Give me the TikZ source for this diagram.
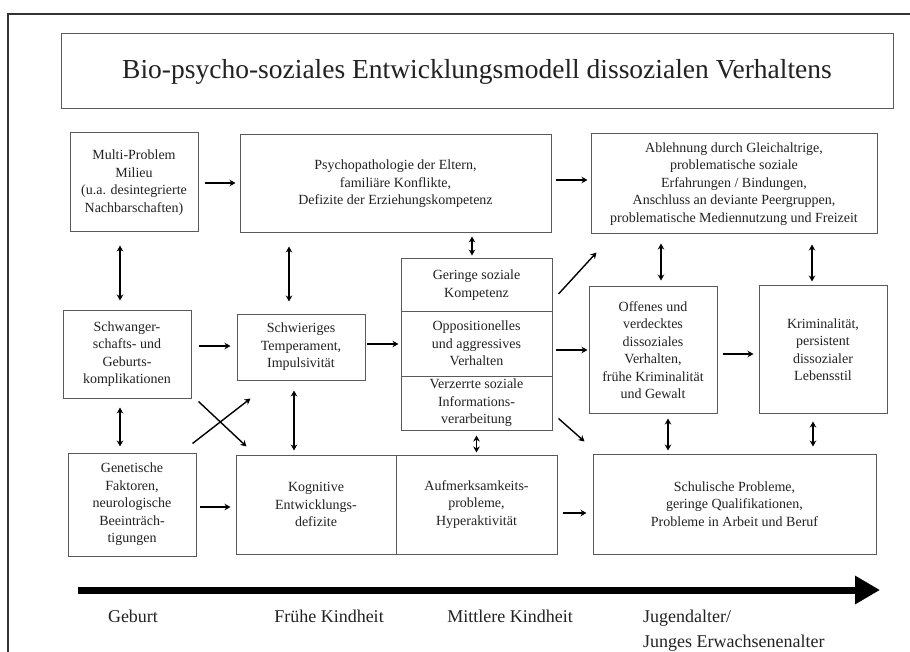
\documentclass[tikz,border=0pt]{standalone}
\usepackage{fontspec}
\setmainfont{Liberation Serif}
\usetikzlibrary{arrows.meta}
\definecolor{boxgray}{HTML}{5A5A5A}
\definecolor{txtgray}{HTML}{222222}
\definecolor{framegray}{HTML}{333333}
\begin{document}
\begin{tikzpicture}[x=1pt,y=-1pt,
  box/.style={draw=boxgray, line width=1pt, inner sep=0pt, align=center,
    font=\fontsize{14}{17.5}\selectfont, text=txtgray},
  arr/.style={line width=1.4pt, -{Stealth[length=6pt,width=6.5pt]}},
  darr/.style={line width=1.4pt, {Stealth[length=6pt,width=6.5pt]}-{Stealth[length=6pt,width=6.5pt]}},
  lab/.style={font=\fontsize{18}{22}\selectfont, inner sep=0pt, text=txtgray}]
\useasboundingbox (0,0) rectangle (910,652);
\fill[white] (0,0) rectangle (910,652);
% outer frame (cropped)
\draw[line width=1.5pt, framegray] (8,652) -- (8,14) -- (910,14);
% title
\node[box, minimum width=832pt, minimum height=75pt, font=\fontsize{27.5}{32}\selectfont] (title) at (477,71.5)
  {Bio-psycho-soziales Entwicklungsmodell dissozialen Verhaltens};
% row 1
\node[box, minimum width=128pt, minimum height=99pt] (multi) at (134,182.5)
  {Multi-Problem\\Milieu\\(u.a. desintegrierte\\Nachbarschaften)};
\node[box, minimum width=311pt, minimum height=98pt] (psycho) at (395.5,184)
  {Psychopathologie der Eltern,\\familiäre Konflikte,\\Defizite der Erziehungskompetenz};
\node[box, minimum width=286pt, minimum height=100pt] (ablehnung) at (734,184)
  {Ablehnung durch Gleichaltrige,\\problematische soziale\\Erfahrungen / Bindungen,\\Anschluss an deviante Peergruppen,\\problematische Mediennutzung und Freizeit};
% row 2
\node[box, minimum width=128pt, minimum height=88pt] (schwanger) at (127,354)
  {Schwanger-\\schafts- und\\Geburts-\\komplikationen};
\node[box, minimum width=128pt, minimum height=66pt] (schwierig) at (301,347)
  {Schwieriges\\Temperament,\\Impulsivität};
\node[box, minimum width=151pt, minimum height=52pt] (geringe) at (476.5,285)
  {Geringe soziale\\Kompetenz};
\node[box, minimum width=151pt, minimum height=65pt] (opp) at (476.5,343.5)
  {Oppositionelles\\und aggressives\\Verhalten};
\node[box, minimum width=151pt, minimum height=54pt] (verzerrt) at (476.5,403)
  {Verzerrte soziale\\Informations-\\verarbeitung};
\node[box, minimum width=128pt, minimum height=126pt] (offenes) at (653,350)
  {Offenes und\\verdecktes\\dissoziales\\Verhalten,\\frühe Kriminalität\\und Gewalt};
\node[box, minimum width=128pt, minimum height=127pt] (krim) at (823,349.5)
  {Kriminalität,\\persistent\\dissozialer\\Lebensstil};
% row 3
\node[box, minimum width=128pt, minimum height=103pt] (genetisch) at (132,504.5)
  {Genetische\\Faktoren,\\neurologische\\Beeinträch-\\tigungen};
\node[box, minimum width=160pt, minimum height=99pt] (kognitiv) at (316,504.5)
  {Kognitive\\Entwicklungs-\\defizite};
\node[box, minimum width=161pt, minimum height=99pt] (aufmerk) at (476.5,504.5)
  {Aufmerksamkeits-\\probleme,\\Hyperaktivität};
\node[box, minimum width=283pt, minimum height=100pt] (schulisch) at (734.5,504)
  {Schulische Probleme,\\geringe Qualifikationen,\\Probleme in Arbeit und Beruf};
% connectors
\draw[arr, shorten <=6pt, shorten >=4pt] ([yshift=-0.5pt]multi.east) -- ([yshift=-0.5pt]multi.east -| psycho.west);
\draw[arr, shorten <=4pt, shorten >=3pt] ([yshift=4pt]psycho.east) -- ([yshift=4pt]psycho.east -| ablehnung.west);
\draw[darr, shorten <=13pt, shorten >=9pt] ([xshift=-14pt]multi.south) -- ([xshift=-14pt]multi.south |- schwanger.north);
\draw[darr, shorten <=12pt, shorten >=13pt] ([xshift=-12pt]schwierig.north) -- ([xshift=-12pt]schwierig.north |- psycho.south);
\draw[darr, shorten <=3pt, shorten >=3pt] ([xshift=-4.5pt]geringe.north) -- ([xshift=-4.5pt]geringe.north |- psycho.south);
\draw[arr] ([shift={(6pt,-9pt)}]geringe.east) -- ([shift={(6pt,-18pt)}]ablehnung.south west);
\draw[arr, shorten <=7pt, shorten >=6pt] ([yshift=8pt]schwanger.east) -- ([yshift=8pt]schwanger.east -| schwierig.west);
\draw[arr, shorten <=1pt, shorten >=2pt] ([yshift=3pt]schwierig.east) -- ([yshift=3pt]schwierig.east -| opp.west);
\draw[arr, shorten <=3pt, shorten >=1pt] ([yshift=-6.5pt]opp.east) -- ([yshift=-6.5pt]opp.east -| offenes.west);
\draw[arr, shorten <=5pt, shorten >=5pt] ([yshift=-4pt]offenes.east) -- ([yshift=-4pt]offenes.east -| krim.west);
\draw[darr, shorten <=6pt, shorten >=9pt] ([xshift=8pt]offenes.north) -- ([xshift=8pt]offenes.north |- ablehnung.south);
\draw[darr, shorten <=4pt, shorten >=10pt] ([xshift=-11pt]krim.north) -- ([xshift=-11pt]krim.north |- ablehnung.south);
\draw[darr, shorten <=9pt, shorten >=6pt] ([xshift=-7pt]schwanger.south) -- ([xshift=-7pt]schwanger.south |- genetisch.north);
\draw[darr, shorten <=10pt, shorten >=4pt] ([xshift=-7pt]schwierig.south) -- ([xshift=-7pt]schwierig.south |- kognitiv.north);
\draw[arr] ([shift={(7pt,-3pt)}]schwanger.south east) -- ([shift={(11pt,8pt)}]kognitiv.north west);
\draw[arr] ([shift={(-4pt,9pt)}]genetisch.north east) -- ([shift={(14pt,-18pt)}]schwierig.south west);
\draw[arr, shorten <=3pt, shorten >=5pt] ([yshift=-2.5pt]genetisch.east) -- ([yshift=-2.5pt]genetisch.east -| kognitiv.west);
\draw[darr, shorten <=5pt, shorten >=2pt] (verzerrt.south) -- (aufmerk.north);
\draw[arr] ([shift={(6pt,12pt)}]verzerrt.south east) -- ([shift={(-8pt,12pt)}]schulisch.north west);
\draw[arr, shorten <=5pt, shorten >=6pt] ([yshift=-8.5pt]aufmerk.east) -- ([yshift=-8.5pt]aufmerk.east -| schulisch.west);
\draw[darr, shorten <=5pt, shorten >=3pt] ([xshift=15pt]offenes.south) -- ([xshift=15pt]offenes.south |- schulisch.north);
\draw[darr, shorten <=8pt, shorten >=7pt] ([xshift=-10pt]krim.south) -- ([xshift=-10pt]krim.south |- schulisch.north);
% timeline
\coordinate (t0) at (78,590);
\coordinate (t1) at (880,590);
\draw[line width=7pt, -{Triangle[length=25pt,width=27pt]}] (t0) -- (t1);
\node[lab, anchor=base] (geburt) at (133,622) {Geburt};
\node[lab, anchor=base] (frueh) at (329,622) {Frühe Kindheit};
\node[lab, anchor=base] (mittel) at (510,622) {Mittlere Kindheit};
\node[lab, anchor=base west] (jugend) at (643,622) {Jugendalter/};
\node[lab, anchor=base west] (junge) at (643,647) {Junges Erwachsenenalter};
\end{tikzpicture}
\end{document}
